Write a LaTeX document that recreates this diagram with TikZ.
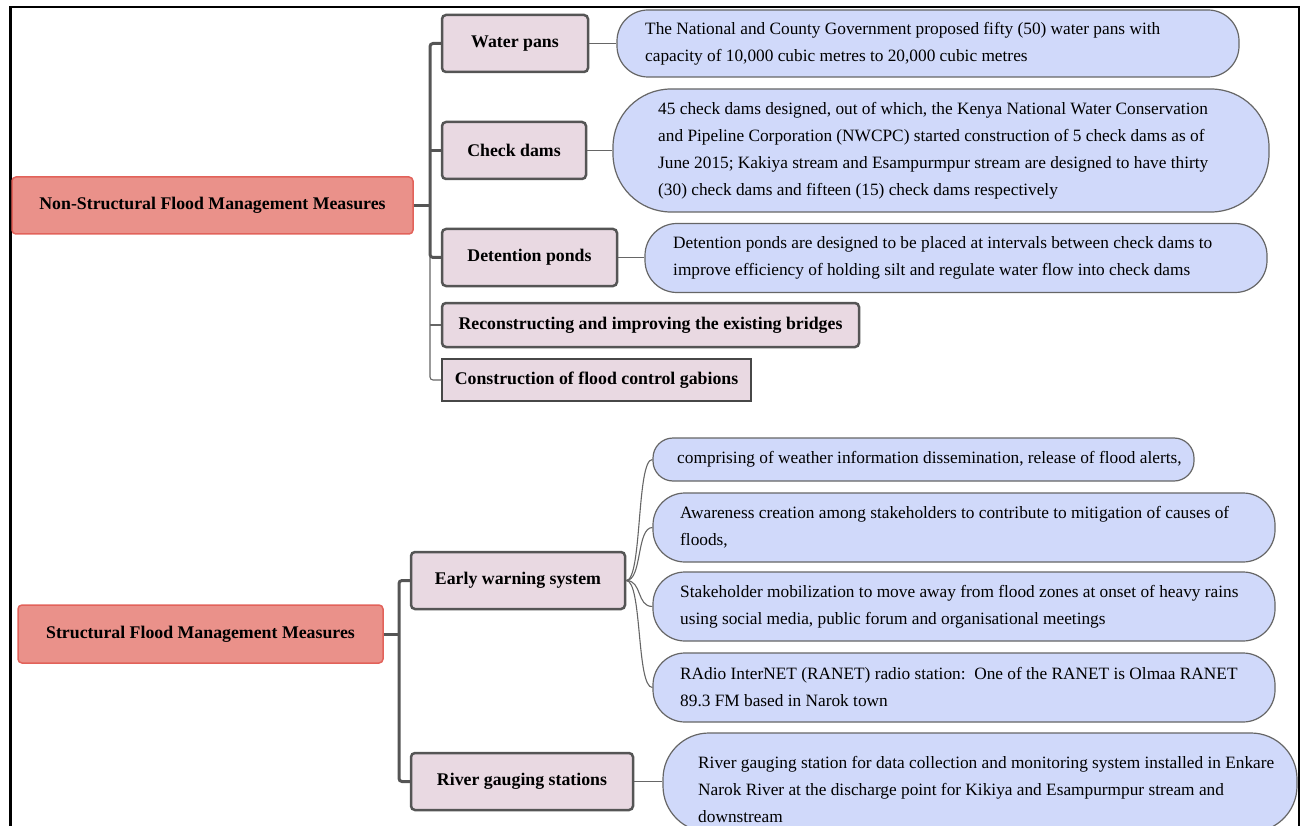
\documentclass[tikz,border=0pt]{standalone}
\usepackage{fontspec}
\setmainfont{Liberation Serif}
\definecolor{rootfill}{HTML}{EA918A}
\definecolor{rootline}{HTML}{E2625A}
\definecolor{pinkfill}{HTML}{E9D9E2}
\definecolor{darkline}{HTML}{555555}
\definecolor{bluefill}{HTML}{D0D9FA}
\definecolor{blueline}{HTML}{666666}
\newcommand\regf{\fontsize{17.3}{27}\selectfont}
\newcommand\boldf{\fontsize{17.8}{27}\selectfont\bfseries}
\tikzset{
  rootbox/.style={draw=rootline, line width=1.5pt, fill=rootfill, rounded corners=4pt, font=\boldf, inner sep=0pt},
  pinkbox/.style={draw=darkline, line width=2.5pt, fill=pinkfill, rounded corners=4pt, font=\boldf, inner sep=0pt},
  flatbox/.style={draw=blueline!120, line width=1.2pt, fill=pinkfill, font=\boldf, inner sep=0pt},
  bluebox/.style={draw=blueline, line width=1.2pt, fill=bluefill, inner sep=0pt},
  btext/.style={font=\regf, align=left, anchor=west, inner sep=0pt},
  thickconn/.style={draw=darkline, line width=3pt, rounded corners=3pt},
  thinconn/.style={draw=blueline, line width=1.1pt, rounded corners=3pt},
}
\begin{document}
\begin{tikzpicture}[x=1pt,y=-1pt]
\useasboundingbox (0,0) rectangle (1303,826);
\clip (0,0) rectangle (1303,826);
% frame
\draw[line width=2pt] (10,840) -- (10,7) -- (1299,7) -- (1299,840);
\draw[line width=3pt] (10,7) -- (10,840);

% ---------- top part ----------
\node[rootbox, minimum width=401pt, minimum height=57pt] (root1) at (212.5,205.5) {Non-Structural Flood Management Measures};
\node[pinkbox, minimum width=146pt, minimum height=57pt] (wp) at (515,43.5) {Water pans};
\node[pinkbox, minimum width=144pt, minimum height=57pt] (cd) at (514,150.5) {Check dams};
\node[pinkbox, minimum width=175pt, minimum height=57pt] (dp) at (529.5,257.5) {Detention ponds};
\node[pinkbox, minimum width=417pt, minimum height=44pt] (rb) at (650.5,325) {Reconstructing and improving the existing bridges};
\node[flatbox, minimum width=309pt, minimum height=42pt] (cg) at (596.5,380) {Construction of flood control gabions};

\node[bluebox, minimum width=622pt, minimum height=67pt, rounded corners=31pt] (bw1) at (928,43.5) {};
\node[btext] (bw1t) at (645,43.5) {The National and County Government proposed fifty (50) water pans with\\capacity of 10,000 cubic metres to 20,000 cubic metres};
\node[bluebox, minimum width=656pt, minimum height=123pt, rounded corners=58pt] (bw2) at (941,150.5) {};
\node[btext] (bw2t) at (658,150.5) {45 check dams designed, out of which, the Kenya National Water Conservation\\and Pipeline Corporation (NWCPC) started construction of 5 check dams as of\\June 2015; Kakiya stream and Esampurmpur stream are designed to have thirty\\(30) check dams and fifteen (15) check dams respectively};
\node[bluebox, minimum width=622pt, minimum height=69pt, rounded corners=32pt] (bw3) at (956,258) {};
\node[btext] (bw3t) at (673,258) {Detention ponds are designed to be placed at intervals between check dams to\\improve efficiency of holding silt and regulate water flow into check dams};

\coordinate (j1) at (430,205.5);
\coordinate (j1b) at (430,257.5);
\draw[thinconn] (j1b) -- (430,380) -- (cg.west);
\draw[thinconn] (430,325) -- (rb.west);
\draw[thickconn] (wp.west) -- (430,43.5) -- (430,257.5) -- (dp.west);
\draw[thickconn] (cd.west) -- (430,150.5);
\draw[thickconn] (root1.east) -- (j1);

\draw[thinconn] (wp.east) -- (wp.east -| bw1.west);
\draw[thinconn] (cd.east) -- (cd.east -| bw2.west);
\draw[thinconn] (dp.east) -- (dp.east -| bw3.west);

% ---------- bottom part ----------
\node[rootbox, minimum width=365pt, minimum height=58pt] (root2) at (200.5,634) {Structural Flood Management Measures};
\node[pinkbox, minimum width=214pt, minimum height=57pt] (ew) at (518,580.5) {Early warning system};
\node[pinkbox, minimum width=222pt, minimum height=57pt] (rg) at (522,781.5) {River gauging stations};

\node[bluebox, minimum width=541pt, minimum height=43pt, rounded corners=20pt] (e1) at (923.5,459.5) {};
\node[btext] (e1t) at (677,459.5) {comprising of weather information dissemination, release of flood alerts,};
\node[bluebox, minimum width=622pt, minimum height=69pt, rounded corners=32pt] (e2) at (964,527.5) {};
\node[btext] (e2t) at (680,527.5) {Awareness creation among stakeholders to contribute to mitigation of causes of\\floods,};
\node[bluebox, minimum width=622pt, minimum height=69pt, rounded corners=32pt] (e3) at (964,606.5) {};
\node[btext] (e3t) at (680,606.5) {Stakeholder mobilization to move away from flood zones at onset of heavy rains\\using social media, public forum and organisational meetings};
\node[bluebox, minimum width=622pt, minimum height=69pt, rounded corners=32pt] (e4) at (964,687.5) {};
\node[btext] (e4t) at (680,687.5) {RAdio InterNET (RANET) radio station:\ \ One of the RANET is Olmaa RANET\\89.3 FM based in Narok town};
\node[bluebox, minimum width=634pt, minimum height=99pt, rounded corners=46pt] (r1) at (980,782.5) {};
\node[btext] (r1t) at (698,789) {River gauging station for data collection and monitoring system installed in Enkare\\Narok River at the discharge point for Kikiya and Esampurmpur stream and\\downstream};

\coordinate (j2) at (399,634);
\draw[thickconn] (ew.west) -- (399,580.5) -- (399,781.5) -- (rg.west);
\draw[thickconn] (root2.east) -- (j2);

\foreach \t in {e1,e2,e3,e4}
  \draw[draw=blueline, line width=1.1pt] (ew.east) .. controls +(16,0) and +(-16,0) .. (\t.west);
\draw[thinconn] (rg.east) -- (rg.east -| r1.west);
\end{tikzpicture}
\end{document}
